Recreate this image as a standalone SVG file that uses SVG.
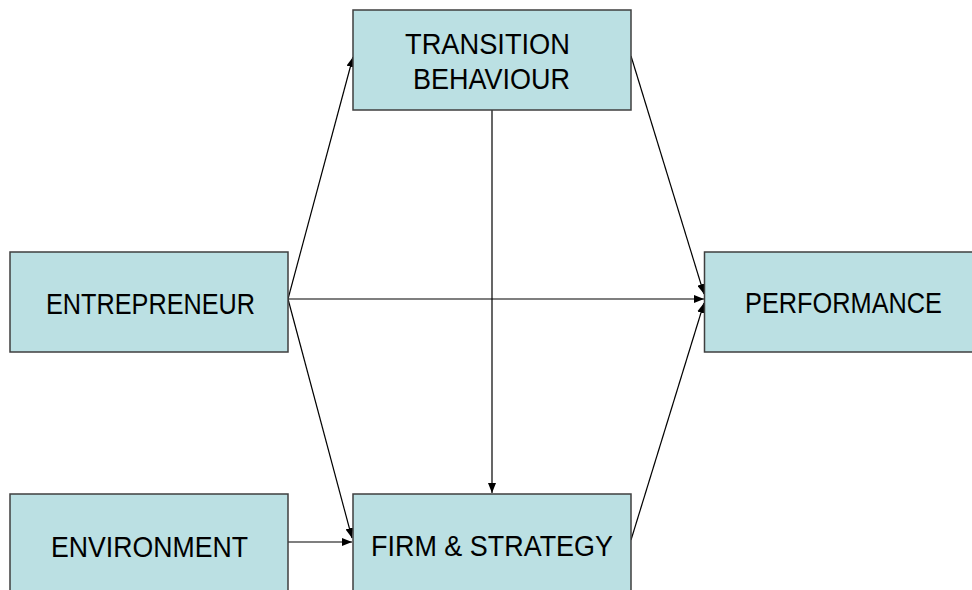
<svg xmlns="http://www.w3.org/2000/svg" width="972" height="590" viewBox="0 0 972 590">
<style>
.box{fill:#BBE0E3;stroke:#3f3f3f;stroke-width:1.5}
.lbl{font-family:"Liberation Sans",Arial,sans-serif;font-size:29px;fill:#000}
.con{stroke:#000;stroke-width:1.2;fill:none;marker-end:url(#arr)}
</style>
<defs>
<marker id="arr" viewBox="0 0 10 8" refX="10" refY="4" markerWidth="10" markerHeight="8" markerUnits="userSpaceOnUse" orient="auto">
<path d="M0,0 L10,4 L0,8 Z" fill="#000"/>
</marker>
</defs>
<rect width="972" height="590" fill="#fff"/>
<g id="connectors">
<line class="con" x1="288" y1="299" x2="353" y2="57"/>
<line class="con" x1="288" y1="299" x2="704" y2="299"/>
<line class="con" x1="288" y1="299" x2="352" y2="538"/>
<line class="con" x1="288" y1="542" x2="352" y2="542"/>
<line class="con" x1="492" y1="110" x2="492" y2="493"/>
<line class="con" x1="631" y1="56" x2="704" y2="294"/>
<line class="con" x1="631" y1="540" x2="704" y2="303"/>
</g>
<g id="transition">
<rect class="box" x="353" y="10" width="278" height="100"/>
<text class="lbl" x="405" y="54" textLength="165" lengthAdjust="spacingAndGlyphs">TRANSITION</text>
<text class="lbl" x="413" y="89" textLength="157" lengthAdjust="spacingAndGlyphs">BEHAVIOUR</text>
</g>
<g id="entrepreneur">
<rect class="box" x="10" y="252" width="278" height="100"/>
<text class="lbl" x="46" y="314" textLength="209" lengthAdjust="spacingAndGlyphs">ENTREPRENEUR</text>
</g>
<g id="performance">
<rect class="box" x="704.5" y="252" width="278" height="100"/>
<text class="lbl" x="745" y="313" textLength="197" lengthAdjust="spacingAndGlyphs">PERFORMANCE</text>
</g>
<g id="environment">
<rect class="box" x="10" y="494" width="278" height="100"/>
<text class="lbl" x="51" y="556.5" textLength="197" lengthAdjust="spacingAndGlyphs">ENVIRONMENT</text>
</g>
<g id="firm">
<rect class="box" x="353" y="494" width="278" height="100"/>
<text class="lbl" x="371" y="556" textLength="242" lengthAdjust="spacingAndGlyphs">FIRM &amp; STRATEGY</text>
</g>
</svg>
